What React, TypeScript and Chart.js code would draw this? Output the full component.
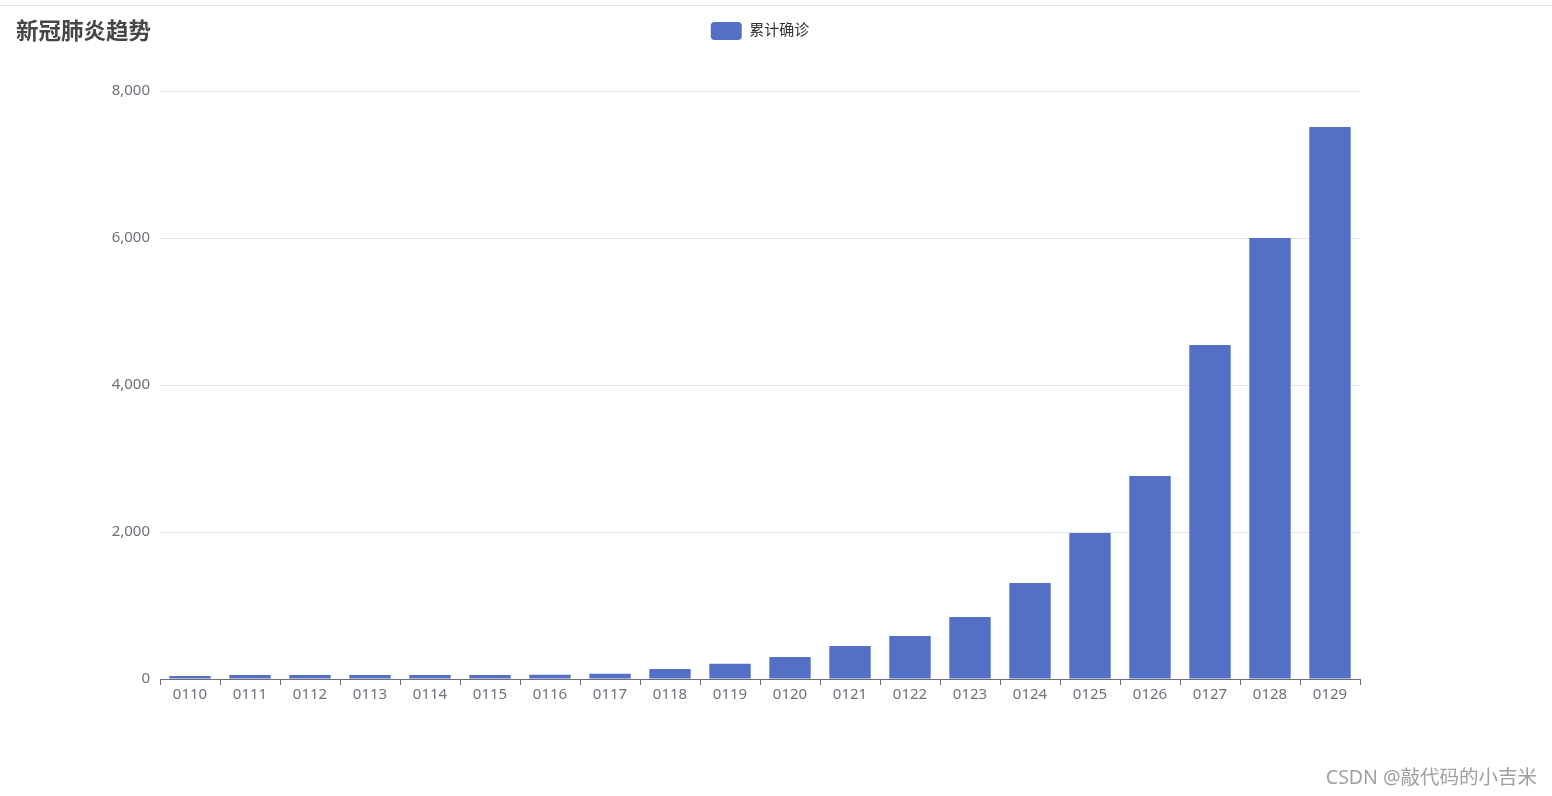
import React, { useEffect, useRef } from "react";
import { Chart, registerables } from "chart.js";

Chart.register(...registerables);

const dates = ["0110", "0111", "0112", "0113", "0114", "0115", "0116", "0117", "0118", "0119", "0120", "0121", "0122", "0123", "0124", "0125", "0126", "0127", "0128", "0129"];
const confirmed = [41, 54, 54, 54, 54, 54, 59, 72, 136, 208, 299, 449, 585, 843, 1306, 1986, 2762, 4544, 6000, 7510];
const seriesName = "累计确诊";
const titleText = "新冠肺炎趋势";
const yMax = 8000;
const yStep = 2000;

const FONT = "'Noto Sans', 'Noto Sans CJK SC', sans-serif";

const legendSpacer = {
  id: "legendSpacer",
  beforeInit(chart: any) {
    const legend = chart.legend;
    if (!legend) return;
    const orig = legend.fit;
    legend.fit = function () {
      orig.call(this);
      this.height += 41;
    };
  },
};

export default function App() {
  const ref = useRef<HTMLCanvasElement | null>(null);

  useEffect(() => {
    if (!ref.current) return;
    const chart = new Chart(ref.current, {
      type: "bar",
      data: {
        labels: dates,
        datasets: [
          {
            label: seriesName,
            data: confirmed,
            backgroundColor: "#5470C6",
            borderColor: "#5470C6",
            borderWidth: 0,
            barPercentage: 0.69,
            categoryPercentage: 1,
          },
        ],
      },
      options: {
        responsive: false,
        animation: false,
        layout: { padding: { top: 12, left: 0, right: 192, bottom: 0 } },
        plugins: {
          title: { display: false },
          tooltip: { enabled: false },
          legend: {
            display: true,
            position: "top",
            align: "center",
            fullSize: false,
            labels: {
              boxWidth: 31,
              boxHeight: 18,
              padding: 10,
              useBorderRadius: true,
              borderRadius: 4,
              color: "#333333",
              font: { size: 15, family: FONT },
            },
          },
        },
        scales: {
          x: {
            offset: true,
            afterFit(scale: any) {
              scale.height = 117;
            },
            grid: {
              offset: true,
              drawOnChartArea: false,
              drawTicks: true,
              tickLength: 6,
              color: "#6E7079",
            },
            border: { display: true, color: "#6E7079", width: 1 },
            ticks: {
              color: "#6E7079",
              font: { size: 15, family: FONT },
              padding: 1,
              maxRotation: 0,
              autoSkip: false,
            },
          },
          y: {
            min: 0,
            max: yMax,
            afterFit(scale: any) {
              scale.width = 160;
            },
            grid: { color: "#E0E6F1", drawTicks: false },
            border: { display: false },
            ticks: {
              stepSize: yStep,
              color: "#6E7079",
              font: { size: 15, family: FONT },
              padding: 10,
            },
          },
        },
      },
      plugins: [legendSpacer],
    });
    return () => chart.destroy();
  }, []);

  return (
    <div style={{ position: "fixed", left: 0, top: 0, width: 1552, height: 796, background: "#fff", overflow: "hidden" }}>
      <div style={{ position: "absolute", left: 0, top: 5, width: 1552, height: 1, background: "#E2E2E2" }} />
      <canvas ref={ref} width={1552} height={796} style={{ position: "absolute", left: 0, top: 0, width: 1552, height: 796 }} />
      <div
        style={{
          position: "absolute",
          left: 16,
          top: 16,
          fontFamily: FONT,
          fontWeight: 700,
          fontSize: 22.5,
          lineHeight: "30px",
          color: "#464646",
        }}
      >
        {titleText}
      </div>
      <div
        style={{
          position: "absolute",
          right: 15,
          top: 764,
          fontFamily: FONT,
          fontSize: 19.5,
          lineHeight: "26px",
          color: "#A0A0A0",
          textShadow: "0 0 1px #fff",
          whiteSpace: "nowrap",
        }}
      >
        CSDN @敲代码的小吉米
      </div>
    </div>
  );
}
